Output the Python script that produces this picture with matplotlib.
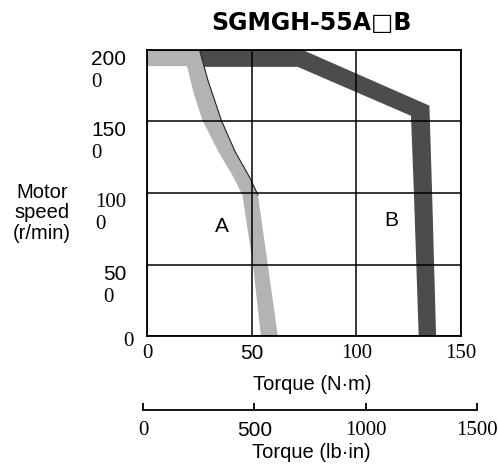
import matplotlib
matplotlib.use('Agg')
import matplotlib.pyplot as plt
import numpy as np

plt.rcParams['font.family'] = ['Liberation Sans', 'DejaVu Sans']
plt.rcParams['mathtext.fontset'] = 'custom'
plt.rcParams['mathtext.rm'] = 'Liberation Serif'

SANS = ['Liberation Sans', 'DejaVu Sans']
SERIF = ['Liberation Serif', 'DejaVu Serif']

title = 'SGMGH-55A\u25a1B'

# Region A (continuous duty) band: outer and inner edges (torque N·m, speed r/min)
a_outer_torque = [0, 25.1, 29.1, 35.6, 42.1, 49.1, 53.0, 57.7, 62.5]
a_outer_speed = [2000, 2000, 1788, 1505, 1289, 1108, 986, 500, 0]
a_inner_torque = [0, 19.1, 22.6, 26.6, 34.1, 40.6, 45.6, 50.6, 54.4]
a_inner_speed = [1887, 1887, 1682, 1505, 1289, 1130, 986, 500, 0]

# Region B (intermittent duty) band
b_outer_torque = [25.1, 74.4, 134.9, 136.2, 138.1]
b_outer_speed = [2000, 2000, 1611, 1000, 0]
b_inner_torque = [27.3, 72.0, 126.1, 127.5, 129.8]
b_inner_speed = [1882, 1882, 1540, 1000, 0]

torque_ticks = [0, 50, 100, 150]
torque_labels = ['0', '50', '100', '150']
torque_fams = [SERIF, SANS, SERIF, SERIF]

speed_ticks = [0, 500, 1000, 1500, 2000]
speed_labels = ['', '50\n$\\mathrm{0}$', '100\n0', '150\n$\\mathrm{0}$', '200\n$\\mathrm{0}$']
speed_fams = [SERIF, SANS, SERIF, SANS, SANS]

lbin_ticks = [0, 500, 1000, 1500]
lbin_labels = ['0', '500', '1000', '1500']
lbin_fams = [SERIF, SANS, SERIF, SERIF]

region_labels = ['A', 'B']
region_pos = [(35.8, 726), (116.7, 772)]

GRAY = '#b3b3b3'
DARK = '#4c4c4c'

fig = plt.figure(figsize=(4.98, 4.71), dpi=100)
ax = fig.add_axes([147/498, 135/471, 314/498, 286/471])

ax.fill(np.concatenate([b_outer_torque, b_inner_torque[::-1]]),
        np.concatenate([b_outer_speed, b_inner_speed[::-1]]),
        color=DARK, lw=0, zorder=1)
ax.fill(np.concatenate([a_outer_torque, a_inner_torque[::-1]]),
        np.concatenate([a_outer_speed, a_inner_speed[::-1]]),
        color=GRAY, lw=0, zorder=1.1)
ax.plot(a_outer_torque[1:7], a_outer_speed[1:7], color='#222222', lw=0.8, zorder=1.2)

ax.set_xlim(0, 150)
ax.set_ylim(0, 2000)
ax.set_xticks(torque_ticks, torque_labels)
ax.set_yticks(speed_ticks, speed_labels)
ax.grid(True, color='black', lw=1.1)
for s in ax.spines.values():
    s.set_linewidth(1.3)
ax.tick_params(length=0, labelsize=15)
ax.tick_params(axis='x', pad=6)
ax.tick_params(axis='y', pad=15)
for lab, fam in zip(ax.get_xticklabels(), torque_fams):
    lab.set_fontfamily(fam)
for lab, fam in zip(ax.get_yticklabels(), speed_fams):
    lab.set_fontfamily(fam)
    lab.set_verticalalignment('top')
    lab.set_multialignment('left')

ax.annotate('0', xy=(0, 0), xytext=(-13.7, -4.3), textcoords='offset points',
            ha='center', va='center', family=SERIF, fontsize=15, annotation_clip=False)

for t, (x, y) in zip(region_labels, region_pos):
    ax.text(x, y, t, ha='center', va='baseline', fontsize=15)

ax.set_xlabel('Torque (N\u00b7m)', fontsize=14.5, va='baseline')
ax.xaxis.set_label_coords(312/498, (471-390)/471, transform=fig.transFigure)

ax.set_ylabel('Motor\nspeed\n(r/min)', fontsize=14.5, rotation=0, ha='center', va='top',
              multialignment='center', linespacing=1.1)
ax.yaxis.set_label_coords(42/498, (471-183)/471, transform=fig.transFigure)

fig.text(311/498, (471-30)/471, title, ha='center', va='baseline', fontsize=17,
         fontweight='bold', family=['DejaVu Sans'])

# secondary torque scale (lb·in)
ax2 = fig.add_axes([143.3/498, (471-410)/471, 333.4/498, 0.02])
ax2.patch.set_visible(False)
for k in ['top', 'left', 'right']:
    ax2.spines[k].set_visible(False)
ax2.spines['bottom'].set_linewidth(1.3)
ax2.set_yticks([])
ax2.set_xlim(0, 1500)
ax2.set_xticks(lbin_ticks, lbin_labels)
ax2.tick_params(axis='x', direction='in', length=5, width=1.3, labelsize=15, pad=8)
for lab, fam in zip(ax2.get_xticklabels(), lbin_fams):
    lab.set_fontfamily(fam)
ax2.set_xlabel('Torque (lb\u00b7in)', fontsize=14.5, va='baseline')
ax2.xaxis.set_label_coords(311/498, (471-458)/471, transform=fig.transFigure)

fig.savefig('out.png', dpi=100)
